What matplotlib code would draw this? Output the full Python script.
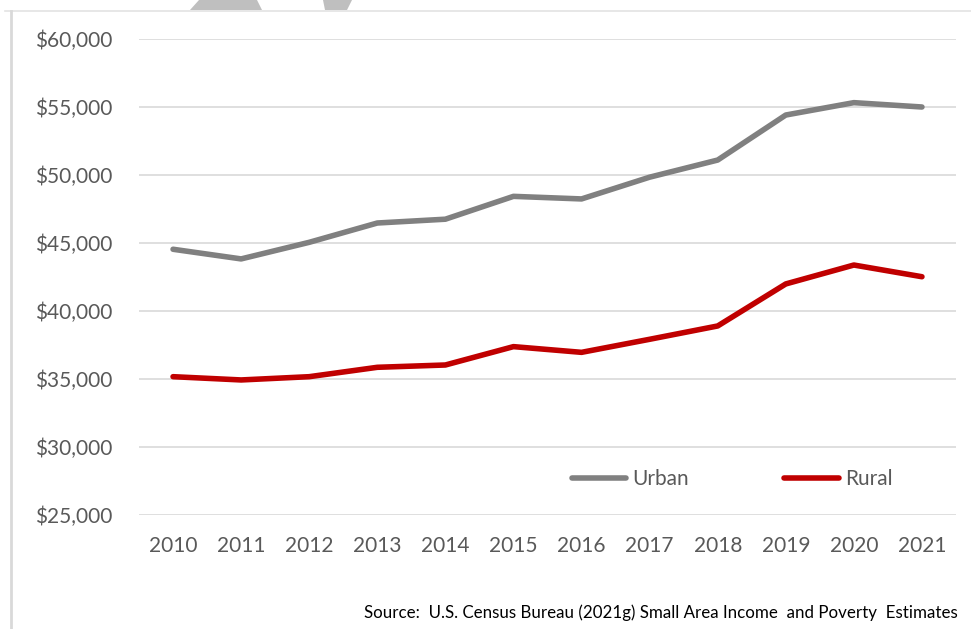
import matplotlib.pyplot as plt
from matplotlib.lines import Line2D
from matplotlib.patches import Polygon
from matplotlib.ticker import FuncFormatter

years = [2010, 2011, 2012, 2013, 2014, 2015, 2016, 2017, 2018, 2019, 2020, 2021]
urban = [44540, 43830, 45050, 46470, 46750, 48430, 48240, 49840, 51100, 54410, 55320, 55000]
rural = [35170, 34930, 35170, 35860, 36030, 37380, 36960, 37920, 38900, 41990, 43380, 42520]
y_ticks = [25000, 30000, 35000, 40000, 45000, 50000, 55000, 60000]
source = "Source:  U.S. Census Bureau (2021g) Small Area Income  and Poverty  Estimates"

plt.rcParams['font.family'] = ['Lato', 'DejaVu Sans']

fig = plt.figure(figsize=(9.71, 6.29), dpi=100)
ax = fig.add_axes([139/971, 1 - 515/629, 817/971, 476/629])

ax.plot(years, urban, color='#808080', lw=4, solid_capstyle='round', solid_joinstyle='round', label='Urban')
ax.plot(years, rural, color='#C00000', lw=4, solid_capstyle='round', solid_joinstyle='round', label='Rural')

ax.set_xlim(2009.5, 2021.5)
ax.set_ylim(25000, 60000)
ax.set_xticks(years)
ax.set_yticks(y_ticks)
ax.yaxis.set_major_formatter(FuncFormatter(lambda v, p: '${:,.0f}'.format(v)))
ax.grid(axis='y', color='#D9D9D9', lw=1.2)
ax.set_axisbelow(True)
for s in ax.spines.values():
    s.set_visible(False)
ax.tick_params(axis='both', length=0, labelsize=15, labelcolor='#595959')
ax.tick_params(axis='y', pad=19)
ax.tick_params(axis='x', pad=15)

handles = [Line2D([], [], color='#808080', lw=4, solid_capstyle='round'),
           Line2D([], [], color='#C00000', lw=4, solid_capstyle='round')]
leg = ax.legend(handles, ['Urban', 'Rural'], ncol=2, loc='center',
                bbox_to_anchor=((732 - 139) / 817, (515 - 479) / 476),
                frameon=False, fontsize=15, handlelength=2.6,
                handletextpad=0.3, columnspacing=4.6)
for t in leg.get_texts():
    t.set_color('#595959')

# outer frame and the cut-off shapes along the top edge
fig.add_artist(Line2D([5/971, 1], [1 - 11/629] * 2, color='#E3E3E3', lw=1.2, transform=fig.transFigure))
fig.add_artist(Line2D([11/971] * 2, [0, 1 - 11/629], color='#D9D9D9', lw=2, transform=fig.transFigure))
for pts in ([(190, 10), (262, 10), (257, 0), (199, 0)],
            [(325, 10), (347, 10), (352, 0), (323, 0)]):
    fig.add_artist(Polygon([(x / 971, 1 - y / 629) for x, y in pts], closed=True,
                           color='#BFBFBF', lw=0, transform=fig.transFigure))

fig.text(958/971, 1 - 613/629, source, ha='right', va='center', fontsize=12.2, color='black')

fig.savefig('out.png', dpi=100)
